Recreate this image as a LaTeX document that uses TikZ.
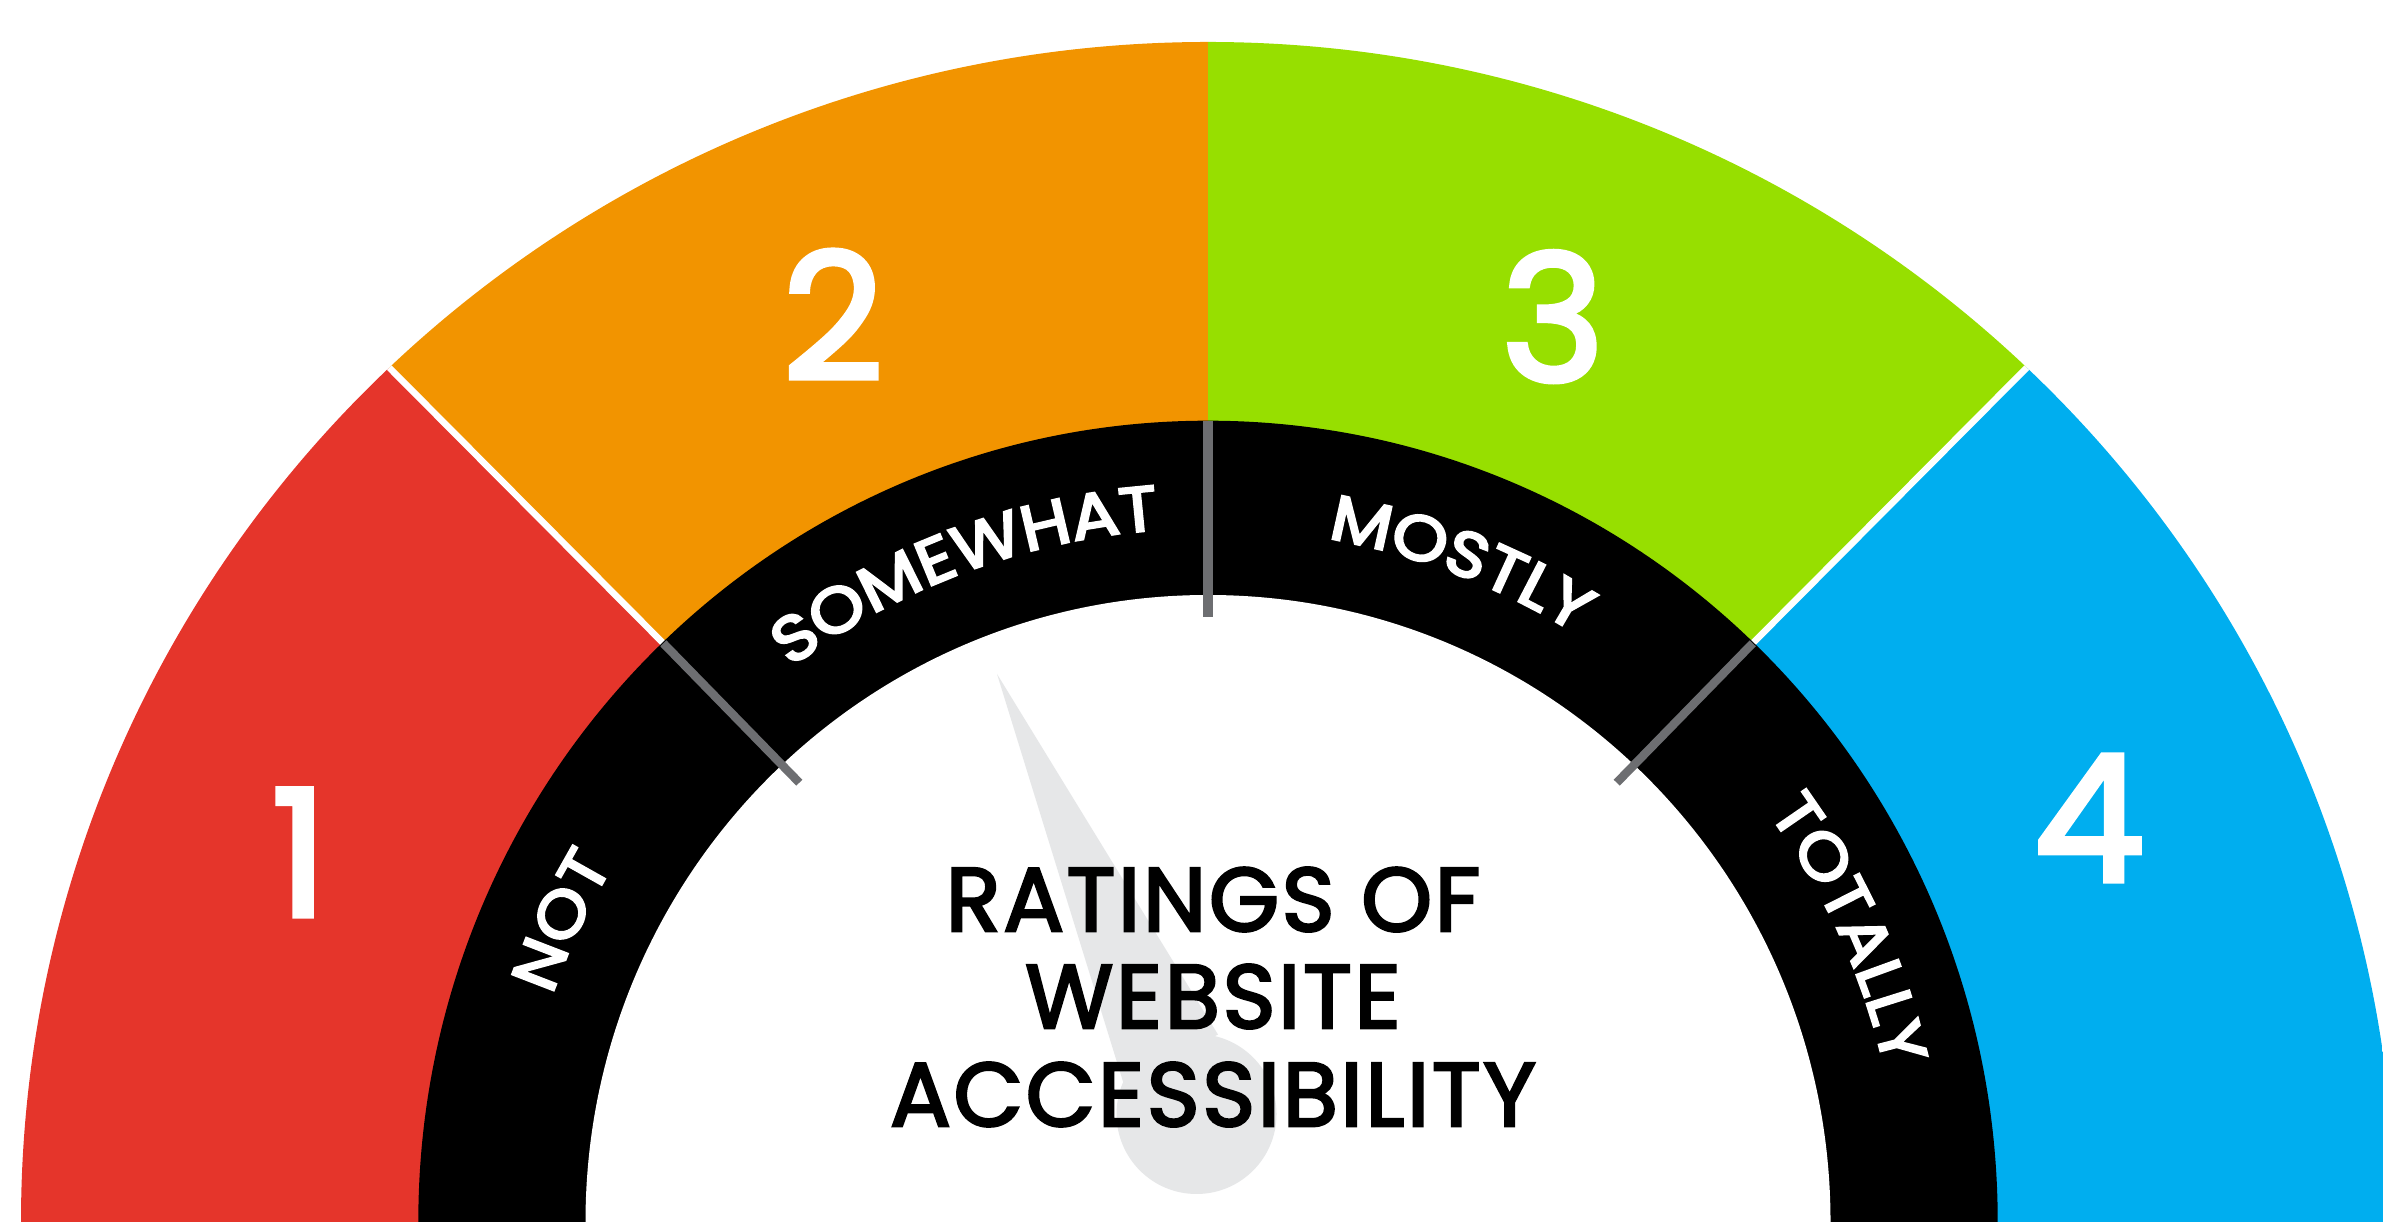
\documentclass[tikz,border=0pt]{standalone}
\usepackage{fontspec}
\setmainfont{Poppins}
\newfontfamily\numfamily{Poppins}[FakeBold=3]
\newfontfamily\titlefamily{Poppins}[FakeBold=3, LetterSpace=3]
\newfontfamily\ringfamily{Poppins}[FakeBold=4, FakeStretch=1.12]
\usetikzlibrary{decorations.text,calc}
\definecolor{cred}{HTML}{E5352B}
\definecolor{corange}{HTML}{F29400}
\definecolor{cgreen}{HTML}{97DF00}
\definecolor{cblue}{HTML}{00AEEF}
\definecolor{tickgray}{HTML}{6D6E71}
\definecolor{needlegray}{HTML}{E6E7E8}
\newcommand\ringfont{\ringfamily\fontsize{18}{18}\selectfont}
\begin{document}
\begin{tikzpicture}[x=0.01cm,y=0.01cm,
  num/.style={font=\numfamily\fontsize{50}{50}\selectfont, text=white, anchor=base, inner sep=0pt},
  titleline/.style={font=\titlefamily\fontsize{25.6}{28}\selectfont, text=black, anchor=base, inner sep=0pt},
  tickline/.style={draw=tickgray, line width=1mm},
  divider/.style={draw=white, line width=0.65mm},
  ringlabel/.style={decorate, decoration={text along path, text align=center, text color=white}}]
\useasboundingbox (0,0) rectangle (2383,1222);
\clip (0,0) rectangle (2383,1222);
\coordinate (C) at (1208,0);
% divider points
\coordinate (L1) at (388.3,855.3);
\coordinate (L2) at (663.3,578.7);
\coordinate (L3) at (799.3,439.3);
\coordinate (R1) at (2027.7,855.3);
\coordinate (R2) at (1752.7,578.7);
\coordinate (R3) at (1616.7,439.3);
\coordinate (T1) at (1208,801.3);
\coordinate (T2) at (1208,604.7);
% coloured sectors
\begin{scope}
\clip (C) ellipse [x radius=1187, y radius=1180];
\fill[cred] (-200,-10) -- (-200,1408.5) -- (-161.7,1408.5) -- (1208,30.8) -- (1208,-10) -- cycle;
\fill[corange] (-161.7,1408.5) -- (1208,1408.5) -- (1208,30.8) -- cycle;
\fill[cgreen] (1208,1408.5) -- (2577.7,1408.5) -- (1208,30.8) -- cycle;
\fill[cblue] (2577.7,1408.5) -- (2700,1408.5) -- (2700,-10) -- (1208,-10) -- (1208,30.8) -- cycle;
\draw[divider] ($(L1)!-0.1!(L2)$) -- (L2);
\draw[divider] ($(R1)!-0.1!(R2)$) -- (R2);
\end{scope}
% black ring and white disk
\fill[black] (C) ellipse [x radius=789.7, y radius=801.3];
\fill[white] (C) ellipse [x radius=622.5, y radius=627];
% needle
\coordinate (tip) at (997,548);
\coordinate (hub) at (1196.5,108);
\fill[needlegray] (tip) -- (1123.1,140) -- (1218,187.4) -- cycle;
\fill[needlegray] (hub) circle (80);
% ticks
\draw[tickline] (T1) -- (T2);
\draw[tickline, line width=0.85mm] (L2) -- (L3);
\draw[tickline, line width=0.85mm] (R2) -- (R3);
% ring labels
\path[ringlabel, decoration={text={|\ringfont|NOT}}] (C) ++(175:694) arc[start angle=175, end angle=135, radius=694];
\path[ringlabel, decoration={text={|\ringfont|SOMEWHAT}}] (C) ++(135.5:694) arc[start angle=135.5, end angle=85.5, radius=694];
\path[ringlabel, decoration={text={|\ringfont|MOSTLY}}] (C) ++(94:694) arc[start angle=94, end angle=44, radius=694];
\path[ringlabel, decoration={text={|\ringfont|TOTALLY}}] (C) ++(49.5:694) arc[start angle=49.5, end angle=-0.5, radius=694];
% numbers
\node[num] (n1) at (299.5,306) {1};
\node[num] (n2) at (833,842.5) {2};
\node[num] (n3) at (1553,841) {3};
\node[num] (n4) at (2089,341) {4};
% title
\node[titleline] (t1) at (1213,291) {RATINGS OF};
\node[titleline] (t2) at (1213,194) {WEBSITE};
\node[titleline] (t3) at (1213,96) {ACCESSIBILITY};
\end{tikzpicture}
\end{document}
